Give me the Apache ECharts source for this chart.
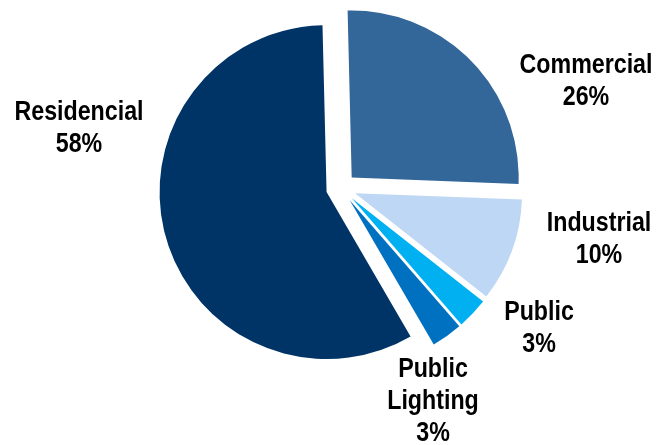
<!DOCTYPE html>
<html>
<head>
<meta charset="utf-8">
<script src="https://cdn.jsdelivr.net/npm/echarts@6/dist/echarts.min.js"></script>
<style>
  html, body { margin: 0; padding: 0; background: #fff; }
  #chart { width: 662px; height: 445px; }
</style>
</head>
<body>
<div id="chart"></div>
<script>
// sectors, clockwise from 12 o'clock
var categories = ['Commercial', 'Industrial', 'Public', 'Public\nLighting', 'Residencial'];
var shares = [26, 10, 3, 3, 58];
var colors = ['#336699', '#BDD7F5', '#00B0F0', '#0070C0', '#003366'];

// label centres (pixels), same order as categories
var labelSpots = [[586, 82], [599, 240], [539, 329], [433, 402], [79, 129]];

var myChart = echarts.init(document.getElementById('chart'));

// labels drawn as graphic text so they can sit where the original put them
var labels = categories.map(function (name, i) {
  return {
    type: 'text',
    x: labelSpots[i][0],
    y: labelSpots[i][1],
    scaleX: 0.86,
    style: {
      text: name + '\n' + shares[i] + '%',
      fill: '#000',
      font: 'bold 27px "Liberation Sans", Arial, sans-serif',
      lineHeight: 32,
      textAlign: 'center',
      textVerticalAlign: 'middle'
    }
  };
});

var option = {
  animation: false,
  graphic: labels,
  series: [
    {
      type: 'pie',
      center: [341, 188],
      radius: 167,
      startAngle: 91.4,
      clockwise: true,
      selectedMode: 'multiple',
      selectedOffset: 15,
      label: { show: false },
      labelLine: { show: false },
      emphasis: { disabled: true },
      itemStyle: { borderWidth: 0 },
      data: categories.map(function (name, i) {
        return {
          name: name,
          value: shares[i],
          selected: true,
          itemStyle: { color: colors[i] },
          select: { itemStyle: { color: colors[i] } }
        };
      })
    }
  ]
};

myChart.setOption(option);
</script>
</body>
</html>
